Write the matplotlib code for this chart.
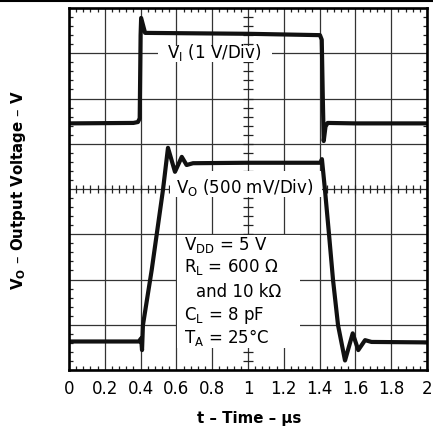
import numpy as np
import matplotlib
matplotlib.use("Agg")
import matplotlib.pyplot as plt
from matplotlib.patches import Rectangle
from matplotlib.lines import Line2D

plt.rcParams['font.family'] = ['DejaVu Sans']
plt.rcParams['mathtext.fontset'] = 'dejavusans'

# ---- data (time in µs, amplitude in screen divisions) ----
x_ticks = [0, 0.2, 0.4, 0.6, 0.8, 1.0, 1.2, 1.4, 1.6, 1.8, 2.0]
x_tick_labels = ['0', '0.2', '0.4', '0.6', '0.8', '1', '1.2', '1.4', '1.6', '1.8', '2']

vi_t = [0.0, 0.36, 0.385, 0.395, 0.400, 0.403, 0.425, 1.0, 1.402, 1.412, 1.418, 1.423, 1.433, 1.445, 1.6, 2.0]
vi_v = [5.45, 5.46, 5.48, 5.56, 7.40, 7.78, 7.45, 7.43, 7.40, 7.30, 6.00, 5.06, 5.38, 5.46, 5.45, 5.45]

vo_t = [0.0, 0.39, 0.403, 0.408, 0.413, 0.462, 0.525, 0.553, 0.592, 0.630, 0.657, 0.693, 1.0, 1.405, 1.413,
        1.430, 1.453, 1.475, 1.503, 1.542, 1.585, 1.616, 1.654, 1.690, 2.0]
vo_v = [0.63, 0.63, 0.70, 0.44, 0.99, 2.21, 3.98, 4.91, 4.38, 4.71, 4.53, 4.57, 4.58, 4.58, 4.66,
        3.98, 2.98, 1.99, 0.99, 0.21, 0.81, 0.44, 0.66, 0.62, 0.61]

cond_lines = [r'V$_\mathregular{DD}$ = 5 V', r'R$_\mathregular{L}$ = 600 Ω', 'and 10 kΩ',
              r'C$_\mathregular{L}$ = 8 pF', r'T$_\mathregular{A}$ = 25°C']

W, H = 433, 429
fig = plt.figure(figsize=(W / 100, H / 100), dpi=100)
ax = fig.add_axes([69 / W, 1 - 370 / H, (427 - 69) / W, (370 - 8) / H])
ax.set_xlim(0, 2)
ax.set_ylim(0, 8)

ax.set_xticks(x_ticks)
ax.set_xticklabels(x_tick_labels)
ax.set_yticks(np.arange(0, 9))
ax.set_yticklabels([])
xminor = np.arange(0, 2.0001, 0.04)
yminor = np.arange(0, 8.0001, 0.2)
ax.set_xticks(xminor, minor=True)
ax.set_yticks(yminor, minor=True)
ax.tick_params(which='both', direction='in', top=True, right=True, bottom=True, left=True)
ax.tick_params(which='major', length=0, pad=7, labelsize=12)
ax.tick_params(which='minor', length=3, width=0.9, color='#222222')
ax.grid(True, which='major', color='#333333', lw=0.9, zorder=0.5)
ax.set_axisbelow(True)
for s in ax.spines.values():
    s.set_linewidth(1.9)
    s.set_zorder(6)

# crosshair graticule ticks on center lines
ax.plot(np.full(len(yminor), 1.0), yminor, ls='none', marker='_', ms=6.5, mew=0.9, color='#222222', zorder=0.6)
ax.plot(xminor, np.full(len(xminor), 4.0), ls='none', marker='|', ms=5.5, mew=0.9, color='#222222', zorder=0.6)

# white label boxes
ax.add_patch(Rectangle((0.497, 6.81), 0.637, 0.36, facecolor='white', edgecolor='none', zorder=1))
ax.add_patch(Rectangle((0.564, 3.82), 0.849, 0.58, facecolor='white', edgecolor='none', zorder=1))
ax.add_patch(Rectangle((0.603, 0.49), 0.687, 2.49, facecolor='white', edgecolor='none', zorder=1))

# traces
ax.plot(vi_t, vi_v, color='#111111', lw=3.0, solid_joinstyle='round', solid_capstyle='round', zorder=3)
ax.plot(vo_t, vo_v, color='#111111', lw=3.0, solid_joinstyle='round', solid_capstyle='round', zorder=3)

ax.text(0.545, 6.89, r'V$_\mathregular{I}$ (1 V/Div)', fontsize=12, ha='left', va='baseline', zorder=4)
ax.text(0.595, 3.91, r'V$_\mathregular{O}$ (500 mV/Div)', fontsize=12, ha='left', va='baseline', zorder=4)

cond_x = [0.645, 0.645, 0.712, 0.645, 0.645]
cond_y = [2.65, 2.17, 1.61, 1.10, 0.60]
for s, cx, cy in zip(cond_lines, cond_x, cond_y):
    ax.text(cx, cy, s, fontsize=12, ha='left', va='baseline', zorder=4)

fig.text(19 / W, 1 - 190 / H, r'V$_\mathbf{O}$ – Output Voltage – V', rotation=90,
         ha='center', va='center', fontsize=10.8, fontweight='bold')
fig.text(249 / W, 1 - 418 / H, 't – Time – µs', ha='center', va='center', fontsize=10.8, fontweight='bold')

fig.add_artist(Line2D([0, 1], [1 - 1 / H, 1 - 1 / H], color='black', lw=1.5))

fig.savefig('out.png', dpi=100)
